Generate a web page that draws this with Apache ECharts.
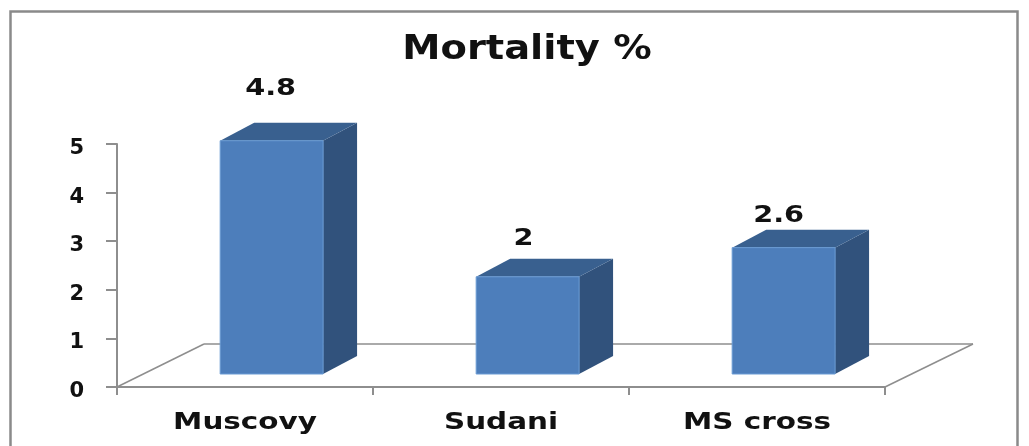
<!DOCTYPE html>
<html>
<head>
<meta charset="utf-8">
<style>
  html, body { margin: 0; padding: 0; background: #fff; }
  #chart { width: 1029px; height: 446px; }
</style>
<script src="https://cdn.jsdelivr.net/npm/echarts@6/dist/echarts.min.js"></script>
</head>
<body>
<div id="chart"></div>
<script>
var titleText = 'Mortality %';
var categories = ['Muscovy', 'Sudani', 'MS cross'];
var mortality = [4.8, 2, 2.6];
var valueLabels = ['4.8', '2', '2.6'];

// label placement above each bar, differs per bar in the picture
var labelLift = [34, 20, 14];
var labelShift = [-1, -4, -5];

var FONT = '"DejaVu Sans", sans-serif';
var DEPTH_X = 34, DEPTH_Y = 18, LIFT = 13;

function poly(points, fill) {
    return { type: 'polygon', shape: { points: points }, style: { fill: fill } };
}

function line(x1, y1, x2, y2) {
    return { type: 'line', shape: { x1: x1, y1: y1, x2: x2, y2: y2 }, style: { stroke: '#8e8e8e', lineWidth: 1.5 } };
}

function renderFloor(params, api) {
    var left = api.coord([0, 0]);
    var band = api.size([1, 0])[0];
    var x0 = left[0] - band / 2, y0 = left[1];
    var x1 = x0 + band * categories.length;
    var backY = y0 - 43;
    return {
        type: 'group',
        children: [
            line(x0, y0, x0 + 87, backY),
            line(x0 + 87, backY, x1 + 88, backY),
            line(x1 + 88, backY, x1, y0)
        ]
    };
}

function renderBar(params, api) {
    var i = api.value(0);
    var band = api.size([1, 0])[0];
    var w = band * 0.402;
    var c = api.coord([i, 0]);
    var top = api.coord([i, api.value(1)]);
    var x = c[0] + band * 0.104 - w / 2;
    var yb = c[1] - LIFT, yt = top[1] - LIFT;
    return {
        type: 'group',
        children: [
            // side
            poly([[x + w, yt], [x + w + DEPTH_X, yt - DEPTH_Y], [x + w + DEPTH_X, yb - DEPTH_Y], [x + w, yb]], '#31527c'),
            // top
            poly([[x, yt], [x + DEPTH_X, yt - DEPTH_Y], [x + w + DEPTH_X, yt - DEPTH_Y], [x + w, yt]], '#39608f'),
            // front
            { type: 'rect', shape: { x: x, y: yt, width: w, height: yb - yt }, style: { fill: '#4d7ebb', stroke: '#6a9bd4', lineWidth: 1 } },
            {
                type: 'text',
                x: x + w / 2 + labelShift[i],
                y: yt - DEPTH_Y - labelLift[i],
                scaleX: 1.25,
                style: { text: valueLabels[i], align: 'center', verticalAlign: 'middle', font: 'bold 23px ' + FONT, fill: '#111' }
            }
        ]
    };
}

function renderCategory(params, api) {
    var i = api.value(0);
    var c = api.coord([i, 0]);
    return {
        type: 'text',
        x: c[0],
        y: c[1] + 36,
        scaleX: 1.28,
        style: { text: categories[i], align: 'center', verticalAlign: 'middle', font: 'bold 23px ' + FONT, fill: '#111' }
    };
}

var chart = echarts.init(document.getElementById('chart'), null, { renderer: 'canvas' });

var option = {
    animation: false,
    backgroundColor: '#fff',
    grid: { left: 117, right: 144, top: 144, bottom: 59, containLabel: false },
    graphic: [
        {
            type: 'rect',
            shape: { x: 10.5, y: 11.5, width: 1007, height: 460 },
            style: { fill: 'none', stroke: '#8a8a8a', lineWidth: 2.5 }
        },
        {
            type: 'text',
            x: 527,
            y: 50,
            scaleX: 1.13,
            style: { text: titleText, align: 'center', verticalAlign: 'middle', font: 'bold 34px ' + FONT, fill: '#111' }
        }
    ],
    xAxis: {
        type: 'category',
        data: categories,
        axisLine: { lineStyle: { color: '#8e8e8e', width: 2 } },
        axisTick: { show: true, alignWithLabel: false, length: 8, lineStyle: { color: '#8e8e8e', width: 2 } },
        axisLabel: { show: false }
    },
    yAxis: {
        type: 'value',
        min: 0,
        max: 5,
        interval: 1,
        splitLine: { show: false },
        axisLine: { show: true, lineStyle: { color: '#8e8e8e', width: 2 } },
        axisTick: { show: true, length: 11, lineStyle: { color: '#8e8e8e', width: 2 } },
        axisLabel: { margin: 33, verticalAlign: 'top', lineHeight: 9, fontFamily: FONT, fontWeight: 'bold', fontSize: 21, color: '#111' }
    },
    series: [
        {
            type: 'custom',
            z: 1,
            silent: true,
            renderItem: renderFloor,
            data: [[0, 0]]
        },
        {
            type: 'custom',
            z: 2,
            renderItem: renderBar,
            encode: { x: 0, y: 1 },
            data: mortality.map(function (v, i) { return [i, v]; })
        },
        {
            type: 'custom',
            z: 3,
            silent: true,
            renderItem: renderCategory,
            encode: { x: 0, y: 1 },
            data: categories.map(function (n, i) { return [i, 0]; })
        }
    ]
};
chart.setOption(option);
</script>
</body>
</html>
